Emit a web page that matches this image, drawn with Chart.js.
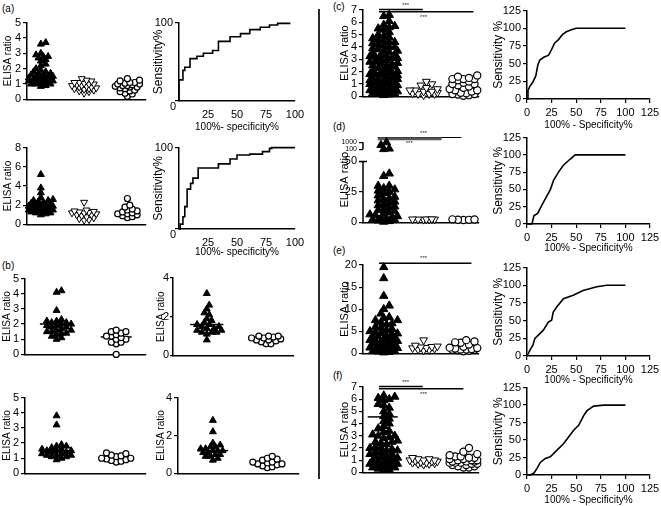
<!DOCTYPE html>
<html>
<head>
<meta charset="utf-8">
<script src="https://cdn.jsdelivr.net/npm/chart.js@4.4.1/dist/chart.umd.min.js"></script>
<style>
  body { margin: 0; background: #fff; }
  #fig { position: relative; width: 661px; height: 506px; overflow: hidden; background: #fff;
         font-family: "Liberation Sans", Arial, sans-serif; color: #000; }
  #fig canvas { position: absolute; }
  .lbl { position: absolute; font-size: 10px; line-height: 12px; }
  #divider { position: absolute; left: 318px; top: 9px; width: 2px; height: 470px; background: #2a2a2a; }
</style>
</head>
<body>
<div id="fig">
  <div class="lbl" style="left:2px;top:3px">(a)</div>
  <div class="lbl" style="left:2px;top:260px">(b)</div>
  <div class="lbl" style="left:333px;top:1px">(c)</div>
  <div class="lbl" style="left:333px;top:121px">(d)</div>
  <div class="lbl" style="left:333px;top:245px">(e)</div>
  <div class="lbl" style="left:333px;top:370px">(f)</div>
  <div id="divider"></div>
</div>
<script>
// ---- data ----
// (a) upper row
const aUpTri = [3.7, 3.6, 3.0, 2.9, 2.8, 2.8, 2.7, 2.6, 2.5, 2.3, 2.2, 2.0, 1.9, 1.8, 1.8, 1.7, 1.7, 1.6, 1.6, 1.5,
                1.5, 1.5, 1.4, 1.4, 1.4, 1.3, 1.3, 1.3, 1.3, 1.2, 1.2, 1.2, 1.2, 1.1, 1.1, 1.1, 1.0, 1.0, 1.0, 0.9, 0.85];
const aUpInv = [1.35, 1.25, 1.2, 1.1, 1.1, 1.05, 1.0, 1.0, 0.95, 0.9, 0.9, 0.85, 0.8, 0.8, 0.75, 0.7, 0.7, 0.65, 0.6, 0.55, 0.5, 0.4];
const aUpCirc = [1.35, 1.25, 1.2, 1.1, 1.1, 1.05, 1.0, 1.0, 0.95, 0.9, 0.9, 0.85, 0.8, 0.8, 0.75, 0.7, 0.6, 0.55, 0.5, 0.4, 0.35, 0.2];
const aUpRocX = [0, 0, 3.4, 5, 9.5, 15.5, 21, 29, 34, 44, 53, 61, 70, 78, 85, 96];
const aUpRocY = [0, 27, 39, 43, 54, 57, 61, 64.5, 76, 82, 86, 91, 94, 97, 99, 99];
// (a) lower row
const aLowTri = [5.2, 3.8, 3.3, 2.8, 2.6, 2.5, 2.5, 2.4, 2.3, 2.2, 2.2, 2.1, 2.0, 2.0, 1.9, 1.9, 1.8, 1.8, 1.8, 1.7,
                 1.7, 1.7, 1.6, 1.6, 1.6, 1.5, 1.5, 1.5, 1.4, 1.4, 1.3, 1.3, 1.2, 1.2, 1.1, 1.0];
const aLowInv = [2.3, 1.5, 1.4, 1.35, 1.3, 1.25, 1.2, 1.2, 1.1, 1.0, 1.0, 0.9, 0.8, 0.7, 0.6, 0.5, 0.45];
const aLowCirc = [2.7, 2.0, 1.8, 1.6, 1.5, 1.4, 1.3, 1.2, 1.1, 1.1, 1.0, 0.9, 0.8, 0.7];
const aLowRocX = [0, 1, 3.4, 5, 7, 10, 12, 16.5, 34, 44, 50, 61, 72, 78, 80, 100];
const aLowRocY = [0, 6, 15, 27.5, 49, 56, 62.5, 75, 80, 86, 91, 92, 95, 99, 100, 100];
const aRocTicks = [0, 100];
// (b) four panels, two groups each, with group means
const b1Tri = [4.2, 4.1, 2.9, 2.3, 2.2, 2.2, 2.1, 2.1, 2.0, 2.0, 1.9, 1.9, 1.8, 1.8, 1.7, 1.6, 1.6, 1.5, 1.5, 1.4, 1.4, 1.3, 1.2, 1.1, 1.0];
const b1Circ = [1.6, 1.5, 1.5, 1.4, 1.3, 1.2, 1.2, 1.1, 1.0, 1.0, 0.8, 0.8, 0.7, 0.0];
const b1Mean = [2.0, 1.15];
const b2Tri = [3.2, 2.6, 2.4, 2.2, 2.1, 1.9, 1.8, 1.7, 1.6, 1.6, 1.5, 1.5, 1.4, 1.4, 1.3, 1.3, 1.2, 1.2, 1.2, 1.1, 0.8];
const b2Circ = [1.0, 1.0, 1.0, 0.95, 0.9, 0.9, 0.85, 0.8, 0.8, 0.75, 0.7, 0.6, 0.6];
const b2Mean = [1.6, 0.85];
const b3Tri = [3.8, 3.2, 1.9, 1.8, 1.8, 1.7, 1.6, 1.6, 1.5, 1.5, 1.5, 1.4, 1.4, 1.3, 1.3, 1.2, 1.2, 1.2, 1.1, 1.1, 1.0, 0.9];
const b3Circ = [1.35, 1.3, 1.2, 1.15, 1.1, 1.0, 1.0, 0.95, 0.9, 0.85, 0.8, 0.75];
const b3Mean = [1.5, 1.0];
const b4Tri = [2.8, 2.2, 1.6, 1.5, 1.4, 1.4, 1.3, 1.3, 1.2, 1.2, 1.2, 1.1, 1.1, 1.0, 1.0, 0.9, 0.9, 0.8, 0.7];
const b4Circ = [0.9, 0.8, 0.75, 0.7, 0.6, 0.6, 0.55, 0.5, 0.5, 0.45, 0.4, 0.35, 0.3];
const b4Mean = [1.2, 0.55];
// (c)
const cTri = [0.1, 0.15, 0.2, 0.2, 0.25, 0.3, 0.3, 0.4, 0.45, 0.5, 0.5, 0.6, 0.6, 0.7, 0.7, 0.8, 0.9, 0.9, 1.0, 1.0,
              1.05, 1.1, 1.1, 1.2, 1.3, 1.3, 1.4, 1.4, 1.5, 1.5, 1.6, 1.7, 1.7, 1.8, 1.8, 1.9, 1.9, 2.0, 2.05, 2.1,
              2.2, 2.2, 2.3, 2.4, 2.5, 2.5, 2.6, 2.6, 2.7, 2.8, 2.8, 2.9, 3.0, 3.1, 3.1, 3.2, 3.25, 3.3, 3.4, 3.4,
              3.5, 3.6, 3.7, 3.7, 3.8, 3.9, 4.0, 4.0, 4.1, 4.2, 4.3, 4.4, 4.4, 4.5, 4.6, 4.7, 4.8, 4.9, 5.0, 5.2,
              5.4, 5.5, 5.6, 5.7, 5.8, 6.1, 6.5, 6.6];
const cInv = [0.1, 0.2, 0.2, 0.2, 0.25, 0.3, 0.4, 0.4, 0.5, 0.5, 0.6, 0.7, 0.9, 1.0, 1.2];
const cCirc = [0.05, 0.1, 0.15, 0.2, 0.2, 0.25, 0.3, 0.4, 0.5, 0.5, 0.6, 0.7, 0.8, 0.9, 1.0, 1.0, 1.1, 1.2, 1.3,
               1.4, 1.4, 1.4, 1.5, 1.6, 1.7];
const cRocX = [0, 1, 3, 6, 9, 11, 13, 17, 22, 25, 28, 32, 36, 40, 45, 50, 100];
const cRocY = [0, 12, 18, 24, 33, 48, 55, 59, 62, 70, 79, 84, 91, 95, 98, 100, 100];
// (d) broken axis: 0-50 linear, then 100 and 1000
const dTickVals = [0, 25, 50, 100, 1000];
const dTri = [0.5, 1, 1.5, 2, 2.5, 3, 4, 5, 6, 7, 8, 10, 11, 12, 13, 15, 16, 17, 18, 19, 20, 22, 24, 25, 26, 27,
              28, 30, 30, 38, 40, 9, 14, 21, 3.5, 6.5, 100, 120, 400, 1000];
const dInv = [2.5, 2.6, 2.4, 2.7, 2.3, 2.5, 2.6];
const dCirc = [2.2, 2.4, 2.0, 2.5, 2.1];
const dRocX = [0, 5, 7, 11, 15, 19.5, 23.5, 27, 32, 37, 44, 49, 100];
const dRocY = [0, 0, 12, 15.6, 27, 39, 49, 63, 75, 85, 94, 100, 100];
// (e)
const eTri = [0.2, 0.3, 0.4, 0.5, 0.5, 0.7, 0.8, 0.9, 1.0, 1.2, 1.3, 1.5, 1.7, 1.8, 2.0, 2.2, 2.3, 2.5, 2.6, 2.8,
              2.9, 3.0, 3.2, 3.3, 3.5, 3.8, 3.9, 4.0, 4.3, 4.5, 4.6, 4.8, 5.0, 5.2, 5.5, 5.8, 6.0, 6.5, 6.8, 7.0,
              7.5, 7.5, 8.0, 8.2, 9.0, 10.0, 10.8, 13.0, 17.0, 19.5];
const eInv = [3.0, 1.8, 1.6, 1.5, 1.4, 1.3, 1.2, 1.1, 0.9, 0.8, 0.7];
const eCirc = [3.0, 2.7, 2.5, 2.4, 2.0, 1.5, 1.3, 1.2, 1.1, 1.0, 0.9, 0.9, 0.8, 0.8, 0.7, 0.6, 0.5];
const eRocX = [0, 3, 6, 8, 11.5, 16.6, 21.7, 25, 26.7, 30, 37, 47, 57, 71, 81, 100];
const eRocY = [0, 8.4, 15.4, 25, 29.5, 36.5, 48, 50.6, 62, 69, 81, 86, 92.7, 98, 100, 100];
// (f)
const fTri = [0.2, 0.2, 0.3, 0.4, 0.4, 0.5, 0.5, 0.6, 0.6, 0.7, 0.7, 0.8, 0.8, 0.9, 0.9, 1.0, 1.0, 1.1, 1.2, 1.2,
              1.3, 1.4, 1.5, 1.5, 1.6, 1.7, 1.8, 1.8, 1.9, 2.0, 2.0, 2.1, 2.3, 2.4, 2.5, 2.5, 2.6, 2.8, 2.9, 3.0,
              3.0, 3.1, 3.3, 3.4, 3.6, 3.8, 4.0, 4.2, 4.4, 4.6, 4.8, 5.0, 5.3, 5.5, 5.6, 5.9, 6.0, 6.1, 6.2, 6.3];
const fInv = [1.2, 1.1, 1.1, 1.0, 1.0, 1.0, 0.95, 0.9, 0.9, 0.85, 0.8, 0.8, 0.75, 0.7, 0.7, 0.65];
const fCirc = [2.0, 1.7, 1.5, 1.4, 1.3, 1.3, 1.2, 1.2, 1.1, 1.1, 1.0, 1.0, 1.0, 0.9, 0.9, 0.9, 0.8, 0.8, 0.8, 0.7,
               0.7, 0.6, 0.6, 0.5, 0.5, 0.4, 0.4];
const fMean = 4.55;
const fRocX = [0, 3.4, 6.8, 10.2, 13.5, 18.6, 23.7, 30.5, 37.3, 42.3, 47.4, 52.5, 57.6, 61, 67.8, 78, 100];
const fRocY = [0, 0, 2.4, 9.5, 18, 23.7, 26, 35.5, 45, 54.4, 64, 71, 85, 92, 98.5, 100, 100];

const FONT = '"Liberation Sans", Arial, sans-serif';
const fig = document.getElementById('fig');

// marker looks
const TRI = { shape: 'triangle', r: 4, fill: '#000', bw: 1, size: 7 };
const INV = { shape: 'triangle', r: 4, rot: 180, fill: '#fff', bw: 1, size: 7 };
const CIRC = { shape: 'circle', r: 3, fill: '#fff', bw: 1.2, size: 7 };
const TRI2 = { shape: 'triangle', r: 4.8, fill: '#000', bw: 1, size: 8 };
const INV2 = { shape: 'triangle', r: 4.5, rot: 180, fill: '#fff', bw: 1, size: 8 };
const CIRC2 = { shape: 'circle', r: 3.6, fill: '#fff', bw: 1.2, size: 8 };

// broken axis mapping for (d)
function dMap(v) {
  if (v <= 50) return v;
  if (v < 100) return 50 + (v - 50) / 50 * 10;
  return 60 + Math.log10(v / 100) * 5.6;
}

// spread points sideways (GraphPad style), never wider than `half` px each side
function swarm(vals, center, kx, ky, size, pack, half) {
  const placed = [];
  const minD = size * pack;
  const stepPx = size * 0.35;
  return vals.slice().sort((a, b) => a - b).map(v => {
    const py = v * ky;
    let best = 0, bestD = -1;
    for (let i = 0; i < 200; i++) {
      const cand = (i % 2 ? 1 : -1) * Math.ceil(i / 2) * stepPx;
      if (Math.abs(cand) > half) break;
      const d = placed.reduce((m, p) => Math.min(m, Math.hypot(p[0] - cand, p[1] - py)), Infinity);
      if (d >= minD) { best = cand; break; }
      if (d > bestD) { bestD = d; best = cand; }
    }
    placed.push([best, py]);
    return { x: center + best / kx, y: v };
  });
}

const extras = {
  id: 'extras',
  afterDatasetsDraw(chart, args, opts) {
    const { ctx, chartArea } = chart;
    const xs = chart.scales.x, ys = chart.scales.y;
    ctx.save();
    if (opts.broken) {
      const b = opts.broken, L = chartArea.left;
      ctx.strokeStyle = '#000';
      ctx.lineWidth = 1.5;
      ctx.beginPath();
      ctx.moveTo(L, ys.getPixelForValue(b.lo[0]) + 0.75);
      ctx.lineTo(L, ys.getPixelForValue(b.lo[1]));
      ctx.moveTo(L - 4, ys.getPixelForValue(b.lo[1]));
      ctx.lineTo(L + 4, ys.getPixelForValue(b.lo[1]));
      ctx.moveTo(L, ys.getPixelForValue(b.hi[0]));
      ctx.lineTo(L, ys.getPixelForValue(b.hi[1]));
      ctx.stroke();
    }
    ctx.textAlign = 'center';
    ctx.textBaseline = 'middle';
    if (opts.origin) {
      // shared "0" at the lower left corner, GraphPad style
      ctx.fillStyle = '#000';
      ctx.font = '11px ' + FONT;
      ctx.fillText(opts.origin, chartArea.left - 6, chartArea.bottom + 6);
    }
    ctx.fillStyle = '#222';
    ctx.font = '6px ' + FONT;
    (opts.stars || []).forEach(s => {
      ctx.fillText('***', xs.getPixelForValue(s[0]), ys.getPixelForValue(s[1]));
    });
    ctx.restore();
  }
};
Chart.register(extras);

function scale(o) {
  return {
    type: 'linear',
    min: o.min, max: o.max,
    afterFit: s => { if (o.w) s.width = o.w; if (o.h) s.height = o.h; },
    afterBuildTicks: o.tickVals ? (s => { s.ticks = o.tickVals.map(v => ({ value: v })); }) : undefined,
    border: { display: o.border !== false, color: '#000', width: 1.5 },
    grid: { display: !!o.marks, drawOnChartArea: false, drawTicks: true, tickLength: o.tl || 4, color: '#000', lineWidth: 1.2 },
    ticks: {
      display: o.labels !== false, stepSize: o.step, color: '#000', padding: o.tp === undefined ? 2 : o.tp,
      autoSkip: false, maxRotation: 0,
      font: o.font || { family: FONT, size: o.fs || 11 },
      callback: o.fmt || (v => String(v))
    },
    title: { display: !!o.title, text: o.title, color: '#000', padding: 0, font: { family: FONT, size: o.ts || 11 } }
  };
}

function makeChart(area, pad, type, datasets, xs, ys, ext) {
  const c = document.createElement('canvas');
  const w = area[2] - area[0] + pad.l + pad.r;
  const h = area[3] - area[1] + pad.t + pad.b;
  c.width = w; c.height = h;
  c.style.left = (area[0] - pad.l) + 'px';
  c.style.top = (area[1] - pad.t) + 'px';
  fig.appendChild(c);
  xs.h = pad.b;
  ys.w = pad.l;
  return new Chart(c, {
    type: type,
    data: { datasets: datasets },
    options: {
      responsive: false, animation: false, devicePixelRatio: 1, events: [],
      layout: { padding: { top: pad.t, right: pad.r, bottom: 0, left: 0 } },
      plugins: { legend: { display: false }, tooltip: { enabled: false }, extras: ext || {} },
      scales: { x: scale(xs), y: scale(ys) }
    }
  });
}

function scatterPanel(p) {
  const kx = (p.area[2] - p.area[0]) / (p.x[1] - p.x[0]);
  const ky = (p.area[3] - p.area[1]) / (p.y[1] - p.y[0]);
  const map = p.map || (v => v);
  const sets = p.groups.map((g, i) => {
    const st = g[1];
    return {
      data: swarm(g[0].map(map), i + 1, kx, ky, st.size, p.pack, g[2] || p.half),
      pointStyle: st.shape, pointRadius: st.r, pointHoverRadius: st.r, pointRotation: st.rot || 0,
      pointBackgroundColor: st.fill, pointBorderColor: '#000', pointBorderWidth: st.bw, clip: false
    };
  });
  (p.lines || []).forEach(l => sets.push({
    data: [{ x: l[0], y: l[2] }, { x: l[1], y: l[2] }], showLine: true, pointRadius: 0,
    borderColor: l[3] || '#000', borderWidth: l[4] || 1.5, clip: false
  }));
  const ts = p.ts || 11;
  const pad = { l: Math.round(p.yt + ts * 0.6), t: p.t || 8, r: 4, b: 6 };
  const ys = { min: p.y[0], max: p.y[1], step: p.step, marks: true, fs: p.fs, font: p.font, title: 'ELISA ratio', ts: ts,
               tickVals: p.tickVals, fmt: p.fmt, border: p.border, tp: p.tp, tl: p.tl };
  const xs = { min: p.x[0], max: p.x[1], labels: false };
  return makeChart(p.area, pad, 'scatter', sets, xs, ys, p.ext);
}

function rocPanel(p) {
  const pts = p.xs.map((x, i) => ({ x: x, y: p.ys[i] }));
  const sets = [{ data: pts, borderColor: '#000', borderWidth: 1.6, pointRadius: 0, stepped: p.stepped || false,
                  tension: 0, fill: false, clip: false }];
  const pad = { l: Math.round(p.yt + 7.2), t: 8, r: 14, b: Math.round(p.xt + 6) };
  const xs = { min: 0, max: p.max, step: p.xstep, marks: p.xmarks, fs: 11, title: p.xTitle, ts: 10, fmt: p.xfmt, tp: 3 };
  const ys = { min: 0, max: p.max, step: p.ystep, tickVals: p.yticks, marks: true, fs: 11, title: p.yTitle, ts: 12, fmt: p.yfmt };
  return makeChart(p.area, pad, 'line', sets, xs, ys, p.ext);
}

const hideZero = v => (v === 0 ? '' : String(v));

// ---- (a) ----
scatterPanel({ area: [27, 22, 147, 102], x: [0.68, 3.43], y: [0, 5], step: 1, yt: 19, ts: 10, pack: 0.55, half: 13,
               groups: [[aUpTri, TRI], [aUpInv, INV], [aUpCirc, CIRC]] });
rocPanel({ area: [179, 22, 295, 101], xs: aUpRocX, ys: aUpRocY, max: 100, xstep: 25, yticks: aRocTicks, stepped: true,
           yt: 21, xt: 26, yTitle: 'Sensitivity%', xTitle: '100%- specificity%', xfmt: hideZero, yfmt: hideZero,
           ext: { origin: '0' } });
scatterPanel({ area: [27, 147, 147, 227], x: [0.68, 3.43], y: [0, 8], step: 2, yt: 19, ts: 10, pack: 0.55, half: 13,
               groups: [[aLowTri, TRI], [aLowInv, INV], [aLowCirc, CIRC]] });
rocPanel({ area: [179, 147, 295, 229], xs: aLowRocX, ys: aLowRocY, max: 100, xstep: 25, yticks: aRocTicks, stepped: true,
           yt: 21, xt: 23, yTitle: 'Sensitivity%', xTitle: '100%- specificity%', xfmt: hideZero, yfmt: hideZero,
           ext: { origin: '0' } });

// ---- (b) ----
scatterPanel({ area: [25, 278, 147, 357], x: [0.47, 2.5], y: [0, 5], step: 1, yt: 17.5, ts: 10, pack: 0.6, half: 15,
               groups: [[b1Tri, TRI], [b1Circ, CIRC]],
               lines: [[0.72, 1.28, b1Mean[0]], [1.74, 2.26, b1Mean[1]]] });
scatterPanel({ area: [173, 278, 295, 357], x: [0.43, 2.47], y: [0, 4], step: 2, yt: 12, ts: 10, pack: 0.6, half: 15, tp: 1, tl: 3,
               groups: [[b2Tri, TRI], [b2Circ, CIRC]],
               lines: [[0.72, 1.28, b2Mean[0]], [1.74, 2.26, b2Mean[1]]] });
scatterPanel({ area: [25, 397, 147, 476], x: [0.47, 2.5], y: [0, 5], step: 1, yt: 17.5, ts: 10, pack: 0.6, half: 15,
               groups: [[b3Tri, TRI], [b3Circ, CIRC]],
               lines: [[0.72, 1.28, b3Mean[0]], [1.74, 2.26, b3Mean[1]]] });
scatterPanel({ area: [178, 397, 300, 476], x: [0.36, 2.58], y: [0, 4], step: 2, yt: 16.7, ts: 10, pack: 0.6, half: 15,
               groups: [[b4Tri, TRI], [b4Circ, CIRC]],
               lines: [[0.72, 1.28, b4Mean[0]], [1.72, 2.28, b4Mean[1]]] });

// ---- (c) ----
scatterPanel({ area: [363, 10, 480, 99], x: [0.48, 3.37], y: [0, 7], step: 1, yt: 18, pack: 0.6, half: 15, t: 12,
               groups: [[cTri, TRI2], [cInv, INV2], [cCirc, CIRC2]],
               lines: [[0.88, 1.98, 7.05], [0.88, 3.25, 6.85]],
               ext: { stars: [[1.55, 7.4], [2.0, 6.4]] } });
rocPanel({ area: [527, 10, 650, 99], xs: cRocX, ys: cRocY, max: 125, xstep: 25, ystep: 25, xmarks: true,
           yt: 29, xt: 26, yTitle: 'Sensitivity %', xTitle: '100% - Specificity%' });

// ---- (d) ----
scatterPanel({ area: [363, 137, 480, 225], x: [0.48, 3.37], y: [0, 70], yt: 18, pack: 0.6, half: 15, t: 12,
               map: dMap, tickVals: dTickVals.map(dMap), fmt: (v, i) => String(dTickVals[i]), border: false,
               font: c => ({ family: FONT, size: c.tick && c.tick.value > 55 ? 7 : 11 }),
               groups: [[dTri, TRI2], [dInv, INV2], [dCirc, CIRC2]],
               lines: [[0.85, 2.45, 68.6, '#555', 3], [0.85, 2.95, 69.6, '#000', 1.2]],
               ext: { stars: [[2.0, 73.4], [1.64, 64.8]], broken: { lo: [0, 50], hi: [dMap(100), dMap(1000)] } } });
rocPanel({ area: [527, 137, 650, 224], xs: dRocX, ys: dRocY, max: 125, xstep: 25, ystep: 25, xmarks: true,
           yt: 29, xt: 24, yTitle: 'Sensitivity %', xTitle: '100% - Specificity%' });

// ---- (e) ----
scatterPanel({ area: [363, 265, 480, 356], x: [0.48, 3.37], y: [0, 20], step: 5, yt: 18, pack: 0.6, half: 15, t: 12,
               groups: [[eTri, TRI2], [eInv, INV2], [eCirc, CIRC2]],
               lines: [[0.88, 3.2, 20.4]],
               ext: { stars: [[2.0, 21.4]] } });
rocPanel({ area: [527, 267, 650, 356], xs: eRocX, ys: eRocY, max: 125, xstep: 25, ystep: 25, xmarks: true,
           yt: 29, xt: 24, yTitle: 'Sensitivity %', xTitle: '100% - Specificity%' });

// ---- (f) ----
scatterPanel({ area: [363, 387, 480, 475], x: [0.48, 3.37], y: [0, 7], step: 1, yt: 18, pack: 0.6, half: 15, t: 12,
               groups: [[fTri, TRI2], [fInv, INV2], [fCirc, CIRC2]],
               lines: [[0.6, 1.35, fMean], [0.88, 1.98, 7.05], [0.88, 3.0, 6.85]],
               ext: { stars: [[1.55, 7.4], [2.0, 6.4]] } });
rocPanel({ area: [527, 387, 650, 475], xs: fRocX, ys: fRocY, max: 125, xstep: 25, ystep: 25, xmarks: true,
           yt: 29, xt: 25, yTitle: 'Sensitivity %', xTitle: '100% - Specificity%' });
</script>
</body>
</html>
